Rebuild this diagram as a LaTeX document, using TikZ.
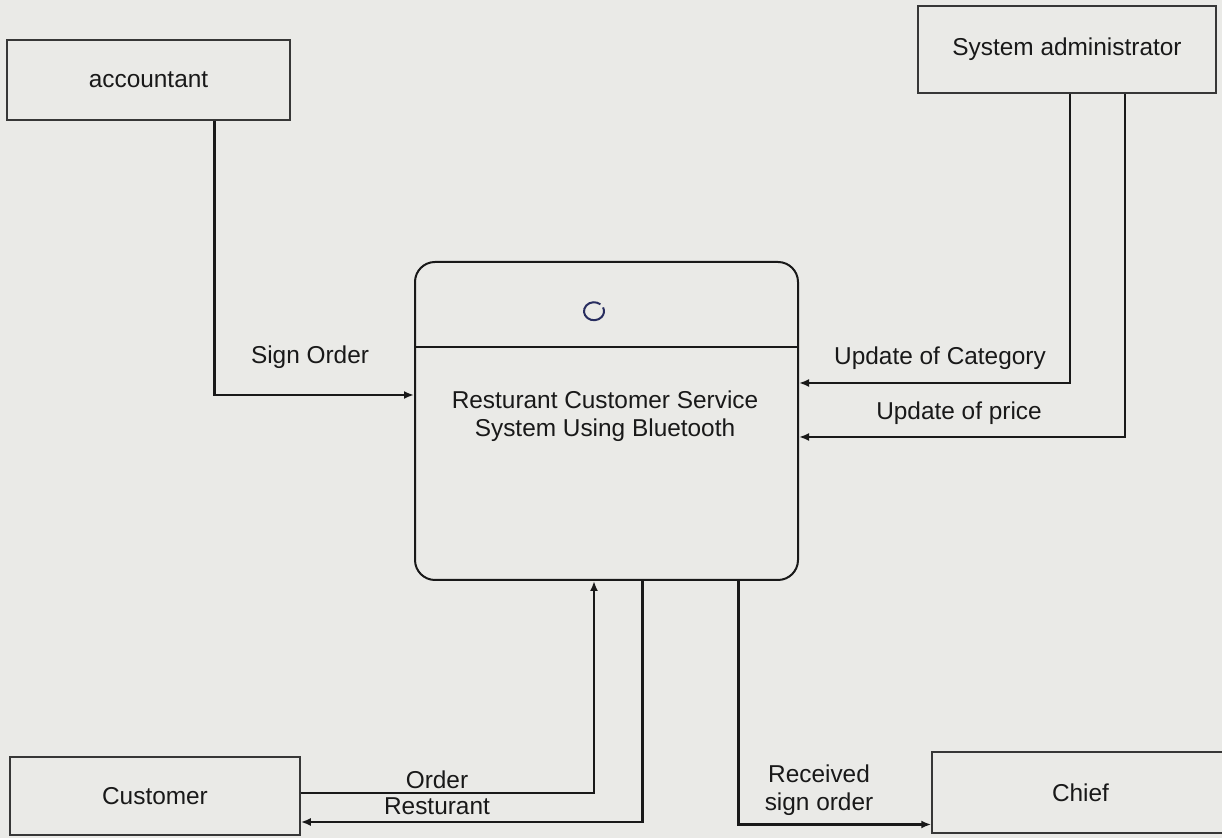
\documentclass[tikz,border=0pt]{standalone}
\usepackage{fontspec}
\setmainfont{Liberation Sans}
\usetikzlibrary{arrows.meta}
\definecolor{paper}{RGB}{234,234,231}
\definecolor{ink}{RGB}{25,25,25}
\definecolor{frame}{RGB}{55,55,55}
\definecolor{pen}{RGB}{40,45,95}
\begin{document}
\begin{tikzpicture}[x=0.5pt,y=-0.5pt,
  every node/.style={font=\fontsize{12.2}{14}\selectfont, text=ink},
  entity/.style={draw=frame, line width=0.75pt, inner sep=0pt},
  process/.style={draw=ink, line width=1pt, rounded corners=10pt, inner sep=0pt},
  flow/.style={draw=ink, line width=1.1pt, -{Latex[length=5pt,width=4pt]}},
  lbl/.style={align=center, inner sep=0pt}]

% page
\fill[paper] (0,0) rectangle (1222,838);
\useasboundingbox (0,0) rectangle (1222,838);

% external entities
\node[entity, minimum width=141.5pt, minimum height=40pt] (acc) at (148.5,80) {accountant};
\node[entity, minimum width=149pt, minimum height=43.5pt] (sa) at (1067,49.5) {System administrator};
\node[entity, minimum width=145pt, minimum height=39pt] (cust) at (155,796) {Customer};
\node[entity, minimum width=151.5pt, minimum height=40.5pt, text width=151.5pt, align=center] (chief) at (1083.5,792.5) {\hspace*{-3pt}Chief};

% central process
\node[process, minimum width=191.5pt, minimum height=159pt] (proc) at (606.5,421) {};
\draw[ink, line width=0.8pt] (proc.west |- 0,347) -- (proc.east |- 0,347);
\node[lbl] (title) at (605,416) {Resturant Customer Service\\System Using Bluetooth};
\draw[pen, line width=1pt] ([shift={(50:5pt)}]594,312) arc[start angle=50, end angle=385, x radius=5pt, y radius=4.5pt];

% data flows
\draw[flow] ([xshift=33pt]acc.south) |- ([yshift=13pt]proc.west);
\draw[flow] ([xshift=1.5pt]sa.south) |- ([yshift=19pt]proc.east);
\draw[flow] ([xshift=29pt]sa.south) |- ([yshift=-8pt]proc.east);
\draw[flow] ([yshift=1.5pt]cust.east) -| ([xshift=-6.25pt]proc.south);
\draw[flow] ([xshift=18pt]proc.south) |- ([yshift=-13pt]cust.east);
\draw[flow] ([xshift=66pt]proc.south) |- ([yshift=-16pt]chief.west);

% flow labels
\node[lbl] (l1) at (310,357) {Sign Order};
\node[lbl] (l2) at (940,358) {Update of Category};
\node[lbl] (l3) at (959,413) {Update of price};
\node[lbl] (l4) at (437,780) {Order};
\node[lbl] (l5) at (437,806) {Resturant};
\node[lbl] (l6) at (819,790) {Received\\sign order};
\end{tikzpicture}
\end{document}
